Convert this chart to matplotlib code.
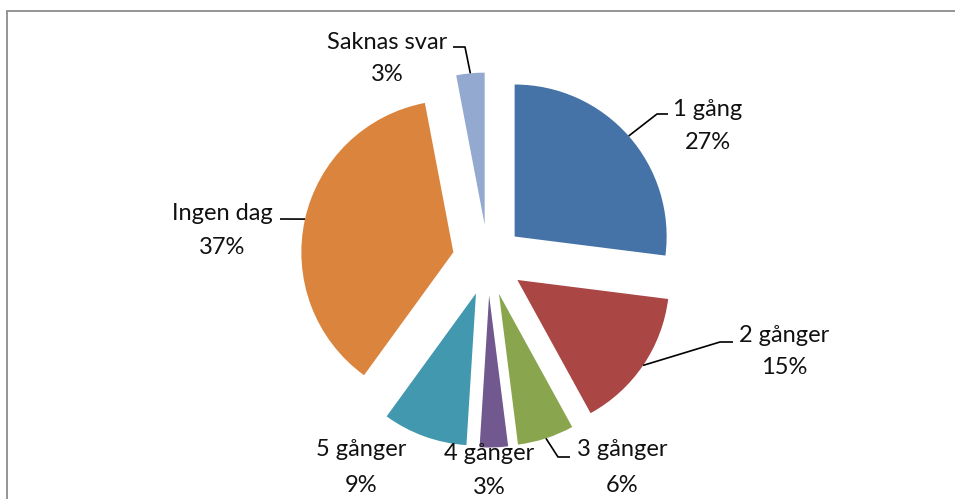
import matplotlib
matplotlib.use("Agg")
import matplotlib.pyplot as plt
import matplotlib.patches as mpatches
import numpy as np

# data
categories = ["1 gång", "2 gånger", "3 gånger", "4 gånger", "5 gånger", "Ingen dag", "Saknas svar"]
shares = [27, 15, 6, 3, 9, 37, 3]
colors = ["#4572A7", "#AA4643", "#89A54E", "#71588F", "#4198AF", "#DB843D", "#93A9CF"]

W, H = 955, 499
plt.rcParams["font.family"] = ["Lato", "DejaVu Sans"]

fig = plt.figure(figsize=(W / 100, H / 100), dpi=100)
ax = fig.add_axes([0, 0, 1, 1])

R = 152
cx, cy = 488, H - 260
wedges, _ = ax.pie(shares, colors=colors, startangle=90, counterclock=False,
                   radius=R, center=(cx, cy), explode=[35.5] * len(shares),
                   wedgeprops=dict(linewidth=0), frame=True)
ax.set_xlim(0, W)
ax.set_ylim(0, H)
ax.set_aspect("equal")
ax.axis("off")

# outer chart frame (right and bottom edges fall outside the crop)
ax.add_patch(mpatches.Rectangle((7, -10), W + 10, H - 11 + 10, fill=False,
                                edgecolor="#8c8c8c", lw=1.3))

# label layout in pixels from top: (x, name y, pct y) and leader path
label_pos = {
    "1 gång": (708, 109, 142),
    "2 gånger": (784, 335, 368),
    "3 gånger": (622, 450, 485),
    "4 gånger": (489, 453, 488),
    "5 gånger": (361, 450, 485),
    "Ingen dag": (222, 213, 247),
    "Saknas svar": (387, 42, 74),
}
leaders = {
    "1 gång": [(657, 114), (668, 114)],
    "2 gånger": [(720, 342), (733, 342)],
    "3 gånger": [(558, 457), (570, 457)],
    "Ingen dag": [(280, 219)],
    "Saknas svar": [(465, 47), (453, 47)],
}

for w, name, val in zip(wedges, categories, shares):
    x, ny, py = label_pos[name]
    ax.text(x, H - ny, name, ha="center", va="center", fontsize=17, color="#111111")
    ax.text(x, H - py, f"{val}%", ha="center", va="center", fontsize=17, color="#111111")
    if name in leaders:
        mid = np.deg2rad((w.theta1 + w.theta2) / 2)
        wx = w.center[0] + w.r * np.cos(mid)
        wy = w.center[1] + w.r * np.sin(mid)
        xs = [wx] + [p[0] for p in leaders[name]]
        ys = [wy] + [H - p[1] for p in leaders[name]]
        ax.plot(xs, ys, color="black", lw=1.2, solid_capstyle="butt")

fig.savefig("out.png", dpi=100, facecolor="white")
